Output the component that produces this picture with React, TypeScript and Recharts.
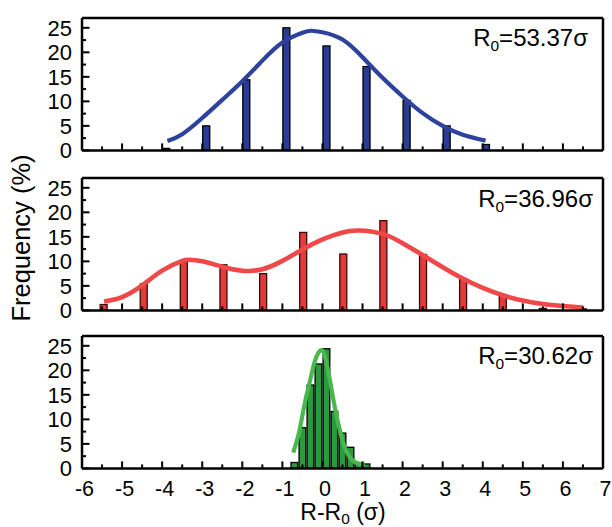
import React from 'react';
import { ComposedChart, Bar, Line, XAxis, YAxis } from 'recharts';

const FONT = '"Liberation Sans", Arial, Helvetica, sans-serif';

const X_DOMAIN: [number, number] = [-6, 7];
const Y_DOMAIN: [number, number] = [0, 27];
const X_TICKS = [-6, -5.5, -5, -4.5, -4, -3.5, -3, -2.5, -2, -1.5, -1, -0.5, 0, 0.5, 1, 1.5, 2, 2.5, 3, 3.5, 4, 4.5, 5, 5.5, 6, 6.5, 7];
const Y_TICKS = [0, 2.5, 5, 7.5, 10, 12.5, 15, 17.5, 20, 22.5, 25];

// Panel 1 (blue, R0 = 53.37σ)
const blueBarX = [-3.9, -2.9, -1.9, -0.9, 0.1, 1.1, 2.1, 3.1, 4.08];
const blueBarY = [0.4, 5.0, 14.4, 25.0, 21.3, 17.1, 10.2, 5.0, 1.2];
const blueCurveX = [-3.87, -3.5, -3.0, -2.5, -2.0, -1.5, -1.0, -0.5, -0.28, 0.0, 0.5, 1.0, 1.5, 2.0, 2.5, 3.0, 3.5, 4.07];
const blueCurveY = [1.9, 3.3, 6.6, 10.3, 14.1, 18.3, 22.0, 24.0, 24.4, 24.1, 22.6, 19.0, 14.8, 11.0, 7.6, 5.0, 3.2, 2.0];

// Panel 2 (red, R0 = 36.96σ)
const redBarX = [-5.46, -4.46, -3.46, -2.47, -1.48, -0.48, 0.52, 1.52, 2.51, 3.51, 4.5, 5.5, 6.5];
const redBarY = [1.2, 5.4, 10.0, 9.3, 7.5, 15.9, 11.5, 18.3, 11.4, 6.5, 3.0, 0.4, 0.3];
const redCurveX = [-5.45, -5.0, -4.5, -4.0, -3.5, -3.3, -3.0, -2.5, -2.0, -1.5, -1.0, -0.5, 0.0, 0.5, 0.9, 1.5, 2.0, 2.5, 3.0, 3.5, 4.0, 4.5, 5.0, 5.5, 6.0, 6.5];
const redCurveY = [1.8, 2.7, 5.1, 8.1, 10.1, 10.3, 10.0, 8.9, 8.1, 8.4, 10.1, 12.4, 14.5, 15.9, 16.3, 15.6, 13.7, 11.3, 8.8, 6.5, 4.6, 3.1, 2.0, 1.3, 0.9, 0.6];

// Panel 3 (green, R0 = 30.62σ)
const greenBarX = [-0.7, -0.5, -0.3, -0.1, 0.1, 0.3, 0.5, 0.7, 0.9, 1.1];
const greenBarY = [1.2, 8.3, 17.0, 21.3, 24.4, 11.6, 7.2, 4.3, 0.9, 0.9];
const greenCurveX = [-0.73, -0.6, -0.5, -0.4, -0.3, -0.2, -0.1, -0.04, 0.05, 0.19, 0.31, 0.44, 0.56, 0.69, 0.85, 1.06];
const greenCurveY = [3.2, 6.8, 10.8, 14.8, 18.2, 21.6, 23.6, 24.1, 23.2, 17.8, 12.4, 7.6, 4.2, 2.2, 1.1, 0.8];

const toRows = (xs: number[], ys: number[]) => xs.map((x, i) => ({ x, y: ys[i] }));

const YTick = (props: any) => {
  const { x, y, payload } = props;
  const v = payload.value as number;
  const major = v % 5 === 0;
  return (
    <g>
      <line x1={x} x2={x + (major ? 7.5 : 4)} y1={y} y2={y} stroke="#000" strokeWidth={2} />
      {major && (
        <text x={x - 10} y={y} dy="0.36em" textAnchor="end" fontSize={22} fontFamily={FONT} fill="#000">
          {v}
        </text>
      )}
    </g>
  );
};

const XTick = (props: any) => {
  const { x, y, payload, showLabels } = props;
  const v = payload.value as number;
  const major = Number.isInteger(v);
  return (
    <g>
      <line x1={x} x2={x} y1={y} y2={y - (major ? 7 : 4)} stroke="#000" strokeWidth={2} />
      {showLabels && major && (
        <text x={x + 2.5} y={y + 28} textAnchor="middle" fontSize={21.5} fontFamily={FONT} fill="#000">
          {String(v)}
        </text>
      )}
    </g>
  );
};

const makeBarShape = (w: number, fill: string, stroke: string) => (props: any) => {
  const { x, y, width, height } = props;
  if (height == null || !isFinite(height) || height <= 0) return <g />;
  const cx = x + (width || 0) / 2;
  return <rect x={cx - w / 2} y={y} width={w} height={height} fill={fill} stroke={stroke} strokeWidth={1.3} />;
};

type PanelProps = {
  top: number;
  height: number;
  marginBottom: number;
  bars: { x: number; y: number }[];
  curve: { x: number; y: number }[];
  barFill: string;
  barStroke: string;
  curveColor: string;
  curveWidth: number;
  barSize: number;
  showLabels: boolean;
};

const AXIS_LINE = { stroke: '#000', strokeWidth: 2.5 };

const Panel = (p: PanelProps) => (
  <div style={{ position: 'absolute', left: 0, top: p.top }}>
    <ComposedChart
      width={612}
      height={p.height}
      data={p.bars}
      margin={{ top: 9, right: 8, bottom: p.marginBottom, left: 0 }}
    >
      <XAxis
        dataKey="x"
        type="number"
        domain={X_DOMAIN}
        ticks={X_TICKS}
        interval={0}
        tickSize={0}
        tickMargin={0}
        tickLine={false}
        axisLine={AXIS_LINE}
        tick={<XTick showLabels={p.showLabels} />}
        height={1}
        allowDataOverflow
      />
      <XAxis
        xAxisId="top"
        orientation="top"
        type="number"
        domain={X_DOMAIN}
        tick={false}
        tickLine={false}
        axisLine={AXIS_LINE}
        height={1}
        allowDataOverflow
      />
      <YAxis
        type="number"
        domain={Y_DOMAIN}
        ticks={Y_TICKS}
        interval={0}
        width={82}
        tickSize={0}
        tickMargin={0}
        tickLine={false}
        axisLine={AXIS_LINE}
        tick={<YTick />}
        allowDataOverflow
      />
      <YAxis
        yAxisId="right"
        orientation="right"
        type="number"
        domain={Y_DOMAIN}
        tick={false}
        tickLine={false}
        axisLine={AXIS_LINE}
        width={1}
        allowDataOverflow
      />
      <Line
        data={p.curve}
        dataKey="y"
        type="natural"
        stroke={p.curveColor}
        strokeWidth={p.curveWidth}
        dot={false}
        activeDot={false}
        isAnimationActive={false}
      />
      <Bar
        dataKey="y"
        fill={p.barFill}
        stroke={p.barStroke}
        strokeWidth={1.3}
        barSize={p.barSize}
        shape={makeBarShape(p.barSize, p.barFill, p.barStroke)}
        isAnimationActive={false}
      />
    </ComposedChart>
  </div>
);

const Annot = ({ x, y, value }: { x: number; y: number; value: string }) => (
  <text x={x} y={y} textAnchor="end" fontSize={24} fontFamily={FONT} fill="#000">
    R
    <tspan fontSize={15.5} dy={5}>0</tspan>
    <tspan dy={-5}>{'=' + value + 'σ'}</tspan>
  </text>
);

export default function App() {
  return (
    <div style={{ position: 'absolute', left: 0, top: 0, width: 612, height: 527, background: '#fff', overflow: 'hidden' }}>
      <Panel
        top={8.3}
        height={157.4}
        marginBottom={14}
        bars={toRows(blueBarX, blueBarY)}
        curve={toRows(blueCurveX, blueCurveY)}
        barFill="#283c96"
        barStroke="#000"
        curveColor="#2d419d"
        curveWidth={4.2}
        barSize={7}
        showLabels={false}
      />
      <Panel
        top={167.7}
        height={157.4}
        marginBottom={14}
        bars={toRows(redBarX, redBarY)}
        curve={toRows(redCurveX, redCurveY)}
        barFill="#e33b3b"
        barStroke="#3a0a0a"
        curveColor="#f04848"
        curveWidth={4.6}
        barSize={7}
        showLabels={false}
      />
      <Panel
        top={325.7}
        height={197.4}
        marginBottom={54}
        bars={toRows(greenBarX, greenBarY)}
        curve={toRows(greenCurveX, greenCurveY)}
        barFill="#2b9a3c"
        barStroke="#000"
        curveColor="#48b84b"
        curveWidth={4.2}
        barSize={6.7}
        showLabels={true}
      />
      <svg width={612} height={527} style={{ position: 'absolute', left: 0, top: 0, pointerEvents: 'none' }}>
        <Annot x={588} y={46} value="53.37" />
        <Annot x={593} y={206.5} value="36.96" />
        <Annot x={593} y={364} value="30.62" />
        <text
          transform="translate(30,238) rotate(-90)"
          textAnchor="middle"
          fontSize={25.5}
          fontFamily={FONT}
          fill="#000"
        >
          Frequency (%)
        </text>
        <text x={343} y={520} textAnchor="middle" fontSize={23} fontFamily={FONT} fill="#000">
          R-R
          <tspan fontSize={15.5} dy={3.5}>0</tspan>
          <tspan dy={-3.5}> (σ)</tspan>
        </text>
      </svg>
    </div>
  );
}
